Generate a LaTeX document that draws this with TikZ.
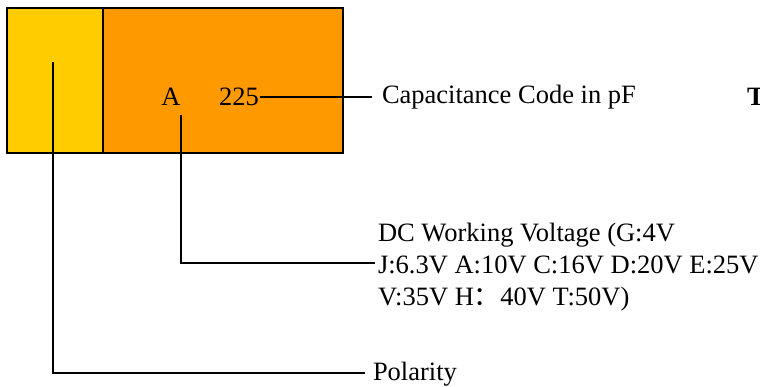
\documentclass[tikz,border=0pt]{standalone}
\usepackage{fontspec}
\setmainfont{Liberation Serif}
\newfontfamily\cjk{Noto Sans CJK SC}
\usetikzlibrary{positioning}
\definecolor{capyellow}{HTML}{FFCC00}
\definecolor{caporange}{HTML}{FF9900}

\begin{document}
\begin{tikzpicture}[
    x=1pt, y=-1pt,
    thick,
    line width=2pt,
    lbl/.style={inner sep=0pt, anchor=west, font=\fontsize{26.5}{32}\selectfont}]
    \useasboundingbox (0,0) rectangle (760,387);
    % BODY
    % polarity band
    \draw[fill=capyellow, line width=2.5pt] (7,8) rectangle (103,153);
    % main body
    \draw[fill=caporange, line width=2.5pt] (103,8) rectangle (343,153);
    % NODES
    % voltage code
    \node[lbl, anchor=center] (A) at (171,97) {A};
    % capacitance code
    \node[lbl, anchor=center] (code) at (239,97) {225};
    % anchors for the connectors
    \coordinate (polmark) at (53,62);
    \coordinate (vmark) at (181,115);
    % labels
    \node[lbl] (cap) at (381,97) {Capacitance Code in pF};
    \node[lbl] (title) at (746,97) {\bfseries T};
    \node[lbl, align=left] (volt) at (377,267) {DC Working Voltage (G:4V\\J:6.3V A:10V C:16V D:20V E:25V\\V:35V H{\cjk ：}40V T:50V)};
    \node[lbl] (pol) at (372,374) {Polarity};

    % CONNECTORS
    \draw (code.east) -- ([xshift=-9pt]cap.west);
    \draw (vmark) |- ([xshift=-2pt,yshift=4pt]volt.west);
    \draw (polmark) |- ([xshift=-7pt,yshift=1pt]pol.west);
\end{tikzpicture}
\end{document}
